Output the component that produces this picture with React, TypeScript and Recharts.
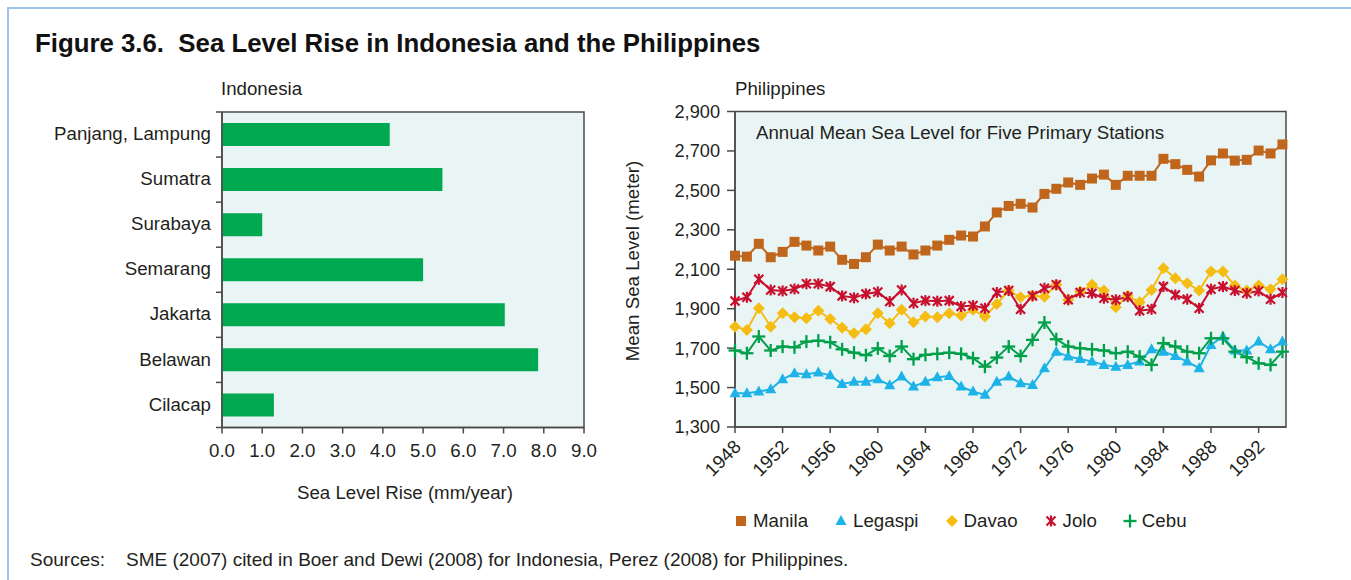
import React from 'react';
import { BarChart, Bar, XAxis, YAxis, LineChart, Line, ReferenceArea } from 'recharts';

// Indonesia: sea level rise by station (mm/year)
const indoStations = ['Panjang, Lampung', 'Sumatra', 'Surabaya', 'Semarang', 'Jakarta', 'Belawan', 'Cilacap'];
const indoRise = [4.17, 5.48, 1.0, 5.0, 7.03, 7.86, 1.29];
const riseTicks = [0, 1, 2, 3, 4, 5, 6, 7, 8, 9];

// Philippines: annual mean sea level (as labelled in the source)
const years = [
  1948, 1949, 1950, 1951, 1952, 1953, 1954, 1955, 1956, 1957, 1958, 1959, 1960, 1961, 1962, 1963,
  1964, 1965, 1966, 1967, 1968, 1969, 1970, 1971, 1972, 1973, 1974, 1975, 1976, 1977, 1978, 1979,
  1980, 1981, 1982, 1983, 1984, 1985, 1986, 1987, 1988, 1989, 1990, 1991, 1992, 1993, 1994,
];
const manila = [
  2169, 2164, 2229, 2161, 2188, 2239, 2220, 2195, 2215, 2148, 2127, 2161, 2225, 2195, 2215, 2175,
  2195, 2220, 2249, 2271, 2266, 2317, 2388, 2421, 2432, 2413, 2482, 2508, 2540, 2528, 2560, 2580,
  2528, 2574, 2574, 2574, 2660, 2633, 2604, 2570, 2652, 2687, 2651, 2655, 2702, 2687, 2733,
];
const legaspi = [
  1471, 1471, 1480, 1491, 1542, 1573, 1568, 1576, 1562, 1518, 1530, 1530, 1542, 1512, 1556, 1505,
  1530, 1552, 1559, 1505, 1480, 1463, 1530, 1556, 1522, 1513, 1598, 1682, 1657, 1645, 1632, 1615,
  1606, 1615, 1632, 1694, 1682, 1660, 1632, 1598, 1716, 1759, 1688, 1688, 1733, 1694, 1733,
];
const davao = [
  1809, 1792, 1902, 1809, 1877, 1857, 1852, 1890, 1848, 1803, 1775, 1796, 1877, 1826, 1894, 1831,
  1860, 1857, 1877, 1865, 1894, 1860, 1924, 1992, 1958, 1965, 1961, 2021, 1945, 1987, 2021, 1992,
  1907, 1965, 1933, 1995, 2105, 2054, 2029, 1992, 2088, 2088, 2017, 1992, 2017, 1999, 2049,
];
const jolo = [
  1939, 1958, 2049, 1995, 1990, 2000, 2026, 2026, 2012, 1965, 1955, 1975, 1985, 1936, 1995, 1928,
  1941, 1938, 1941, 1911, 1916, 1902, 1982, 1992, 1897, 1965, 2004, 2021, 1945, 1982, 1978, 1953,
  1945, 1961, 1890, 1897, 2012, 1970, 1948, 1902, 1999, 2012, 1992, 1978, 1990, 1948, 1982,
];
const cebu = [
  1688, 1674, 1759, 1688, 1708, 1704, 1733, 1738, 1730, 1694, 1677, 1664, 1699, 1660, 1708, 1644,
  1666, 1671, 1677, 1671, 1649, 1606, 1652, 1708, 1660, 1742, 1830, 1745, 1708, 1699, 1694, 1688,
  1674, 1682, 1657, 1615, 1725, 1708, 1682, 1674, 1750, 1750, 1682, 1654, 1623, 1615, 1682,
];
const yearTicks = [1948, 1952, 1956, 1960, 1964, 1968, 1972, 1976, 1980, 1984, 1988, 1992];
const levelTicks = [1300, 1500, 1700, 1900, 2100, 2300, 2500, 2700, 2900];

type MarkerKind = 'square' | 'triangle' | 'diamond' | 'asterisk' | 'plus';

const series: { key: string; name: string; color: string; kind: MarkerKind; values: number[] }[] = [
  { key: 'manila', name: 'Manila', color: '#c0661c', kind: 'square', values: manila },
  { key: 'legaspi', name: 'Legaspi', color: '#1db2e8', kind: 'triangle', values: legaspi },
  { key: 'davao', name: 'Davao', color: '#f5bd14', kind: 'diamond', values: davao },
  { key: 'jolo', name: 'Jolo', color: '#c8102e', kind: 'asterisk', values: jolo },
  { key: 'cebu', name: 'Cebu', color: '#00a04a', kind: 'plus', values: cebu },
];

const indoData = indoStations.map((s, i) => ({ station: s, rise: indoRise[i] }));
const philData = years.map((y, i) => {
  const row: Record<string, number> = { year: y };
  series.forEach(s => (row[s.key] = s.values[i]));
  return row;
});

const FONT = "'Liberation Sans', Arial, sans-serif";
const FS = 18.7;
const TEXT = '#231f20';
const AXIS = '#4a4a4a';
const PLOT_BG = '#e9f5f5';
const INDO_PLOT_H = 315.5;
const BAND = INDO_PLOT_H / indoStations.length;

function Marker({ kind, cx, cy, color }: { kind: MarkerKind; cx: number; cy: number; color: string }) {
  if (cx == null || cy == null) return null;
  switch (kind) {
    case 'square':
      return <rect x={cx - 5} y={cy - 5} width={10} height={10} fill={color} />;
    case 'triangle':
      return <polygon points={`${cx},${cy - 6} ${cx + 5.5},${cy + 4} ${cx - 5.5},${cy + 4}`} fill={color} />;
    case 'diamond':
      return <polygon points={`${cx},${cy - 6} ${cx + 6},${cy} ${cx},${cy + 6} ${cx - 6},${cy}`} fill={color} />;
    case 'asterisk':
      return (
        <g stroke={color} strokeWidth={2.2}>
          <line x1={cx - 4.5} y1={cy - 4.5} x2={cx + 4.5} y2={cy + 4.5} />
          <line x1={cx - 4.5} y1={cy + 4.5} x2={cx + 4.5} y2={cy - 4.5} />
          <line x1={cx} y1={cy - 5.5} x2={cx} y2={cy + 5.5} />
        </g>
      );
    default:
      return (
        <g stroke={color} strokeWidth={2.3}>
          <line x1={cx - 6.5} y1={cy} x2={cx + 6.5} y2={cy} />
          <line x1={cx} y1={cy - 6.5} x2={cx} y2={cy + 6.5} />
        </g>
      );
  }
}

function StationTick(props: any) {
  const { x, y, payload, index } = props;
  const last = index === indoStations.length - 1;
  return (
    <g>
      <line x1={x - 6} x2={x} y1={y - BAND / 2} y2={y - BAND / 2} stroke={AXIS} strokeWidth={1.5} />
      {last && <line x1={x - 6} x2={x} y1={y + BAND / 2} y2={y + BAND / 2} stroke={AXIS} strokeWidth={1.5} />}
      <text x={x - 11} y={y} dy="0.3em" textAnchor="end" fontSize={FS} fill={TEXT} fontFamily={FONT}>
        {payload.value}
      </text>
    </g>
  );
}

function YearTick(props: any) {
  const { x, y, payload } = props;
  return (
    <text
      x={x + 7}
      y={y + 15}
      transform={`rotate(-45, ${x + 7}, ${y + 15})`}
      textAnchor="end"
      fontSize={FS}
      fill={TEXT}
      fontFamily={FONT}
    >
      {payload.value}
    </text>
  );
}

const label = (left: number, top: number, text: string, extra: React.CSSProperties = {}) => (
  <div
    style={{
      position: 'absolute',
      left,
      top,
      fontSize: FS,
      lineHeight: '18px',
      color: TEXT,
      fontFamily: FONT,
      whiteSpace: 'nowrap',
      ...extra,
    }}
  >
    {text}
  </div>
);

export default function App() {
  return (
    <div style={{ position: 'absolute', left: 0, top: 0, width: 1351, height: 580, overflow: 'hidden', background: '#fff' }}>
      <div
        style={{
          position: 'absolute',
          left: 7,
          top: 7,
          width: 1344,
          height: 573,
          borderTop: '2px solid #9dc3ea',
          borderLeft: '2px solid #9dc3ea',
        }}
      />
      <div
        style={{
          position: 'absolute',
          left: 35,
          top: 30,
          fontSize: 25.8,
          lineHeight: '26px',
          fontWeight: 'bold',
          fontFamily: "'Liberation Sans Narrow', 'Liberation Sans', sans-serif",
          color: '#111',
          whiteSpace: 'nowrap',
        }}
      >
        Figure 3.6.&nbsp; Sea Level Rise in Indonesia and the Philippines
      </div>

      {label(221, 80, 'Indonesia')}
      {label(735, 80, 'Philippines')}

      <div style={{ position: 'absolute', left: 0, top: 60 }}>
        <BarChart
          width={620}
          height={420}
          data={indoData}
          layout="vertical"
          margin={{ top: 52, right: 36, bottom: 0, left: 0 }}
          barCategoryGap={0}
        >
          <ReferenceArea x1={0} x2={9} fill={PLOT_BG} fillOpacity={1} stroke={AXIS} strokeWidth={1.5} />
          <XAxis
            type="number"
            domain={[0, 9]}
            ticks={riseTicks}
            tickFormatter={(v: number) => v.toFixed(1)}
            height={52.5}
            tickSize={6}
            tickMargin={10}
            stroke={AXIS}
            strokeWidth={1.5}
            tick={{ fontSize: FS, fill: TEXT, fontFamily: FONT }}
          />
          <YAxis
            type="category"
            dataKey="station"
            width={222}
            tickSize={0}
            tickMargin={0}
            stroke={AXIS}
            strokeWidth={1.5}
            tick={<StationTick />}
            interval={0}
          />
          <Bar dataKey="rise" fill="#00a850" barSize={23} isAnimationActive={false} />
        </BarChart>
      </div>
      {label(297, 484, 'Sea Level Rise (mm/year)')}

      <div style={{ position: 'absolute', left: 600, top: 60 }}>
        <LineChart width={720} height={420} data={philData} margin={{ top: 51.5, right: 34, bottom: 0, left: 0 }}>
          <ReferenceArea
            x1={1948}
            x2={1994.3}
            y1={1300}
            y2={2900}
            fill={PLOT_BG}
            fillOpacity={1}
            stroke={AXIS}
            strokeWidth={1.5}
          />
          <XAxis
            type="number"
            dataKey="year"
            domain={[1948, 1994.3]}
            ticks={yearTicks}
            height={53}
            tickSize={6}
            tickMargin={0}
            stroke={AXIS}
            strokeWidth={1.5}
            tick={<YearTick />}
            interval={0}
          />
          <YAxis
            type="number"
            domain={[1300, 2900]}
            ticks={levelTicks}
            width={135}
            tickSize={8}
            tickMargin={7}
            stroke={AXIS}
            strokeWidth={1.5}
            tickFormatter={(v: number) => v.toLocaleString('en-US')}
            tick={{ fontSize: 18.2, fill: TEXT, fontFamily: FONT }}
            interval={0}
          />
          {series.map(s => (
            <Line
              key={s.key}
              dataKey={s.key}
              name={s.name}
              stroke={s.color}
              strokeWidth={2}
              isAnimationActive={false}
              dot={(p: any) => <Marker key={`${s.key}-${p.index}`} kind={s.kind} cx={p.cx} cy={p.cy} color={s.color} />}
              activeDot={false}
            />
          ))}
        </LineChart>
      </div>
      {label(756, 124, 'Annual Mean Sea Level for Five Primary Stations')}
      {label(633, 261, 'Mean Sea Level (meter)', {
        transform: 'translate(-50%, -50%) rotate(-90deg)',
      })}

      <div
        style={{
          position: 'absolute',
          left: 734,
          top: 512,
          display: 'flex',
          gap: 26,
          fontSize: FS,
          lineHeight: '18px',
          fontFamily: FONT,
          color: TEXT,
        }}
      >
        {series.map(s => (
          <div key={s.key} style={{ display: 'flex', alignItems: 'center', gap: 5 }}>
            <svg width={14} height={14}>
              <Marker kind={s.kind} cx={7} cy={7} color={s.color} />
            </svg>
            <span>{s.name}</span>
          </div>
        ))}
      </div>

      {label(30, 551, 'Sources:', { fontSize: 19 })}
      {label(126, 551, 'SME (2007) cited in Boer and Dewi (2008) for Indonesia, Perez (2008) for Philippines.', {
        fontSize: 19,
      })}
    </div>
  );
}
